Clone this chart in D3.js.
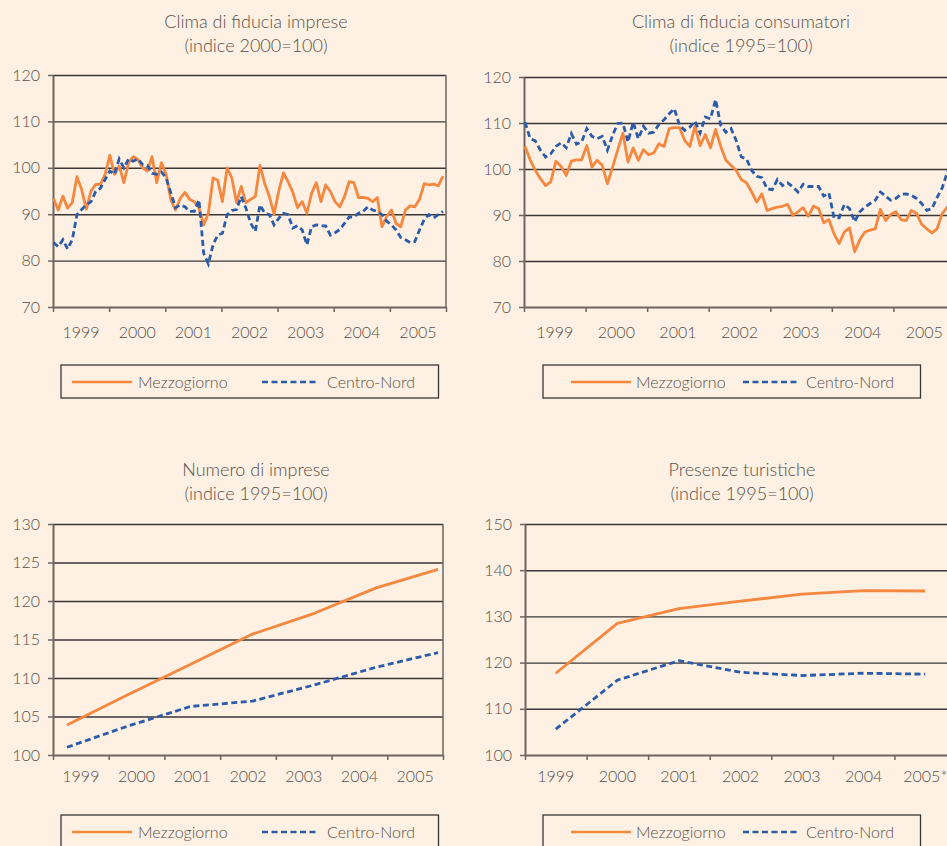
<!DOCTYPE html>
<html>
<head>
<meta charset="utf-8">
<script src="https://cdn.jsdelivr.net/npm/d3@7"></script>
<style>
  body { margin: 0; background: #fef0e2; }
  svg { display: block; font-family: Lato, "Open Sans", sans-serif; font-weight: 300; }
</style>
</head>
<body>
<svg id="chart" width="947" height="846"></svg>
<script>
// years on the category axis
var years = ["1999", "2000", "2001", "2002", "2003", "2004", "2005"];
var yearsProv = ["1999", "2000", "2001", "2002", "2003", "2004", "2005*"];
var seriesNames = ["Mezzogiorno", "Centro-Nord"];

// Clima di fiducia imprese, monthly 1999-2005 (indice 2000=100)
var impreseSud = [93.4, 90.9, 93.9, 91.3, 92.5, 98.1, 95.3, 91.1, 95.0, 96.4, 96.4, 98.6,
  102.7, 98.6, 100.4, 96.8, 101.1, 102.4, 101.8, 100.0, 99.3, 102.4, 96.8, 101.1,
  98.6, 93.1, 90.9, 93.4, 94.7, 93.2, 92.7, 91.3, 87.7, 90.2, 97.8, 97.3,
  92.7, 100.0, 97.8, 92.5, 96.0, 92.5, 93.2, 93.8, 100.5, 96.6, 93.8, 90.0,
  95.0, 98.9, 97.0, 94.7, 91.4, 92.7, 90.2, 94.5, 96.8, 92.7, 96.3, 94.9,
  92.7, 91.6, 93.8, 97.0, 96.8, 93.6, 93.6, 93.4, 92.7, 93.6, 87.3, 89.5,
  90.9, 88.0, 87.3, 90.9, 91.8, 91.6, 93.2, 96.6, 96.3, 96.5, 96.1, 98.2];
var impreseNord = [83.9, 83.0, 84.5, 82.5, 84.5, 89.9, 91.0, 92.0, 92.7, 94.9, 95.6, 97.5,
  99.3, 98.6, 101.9, 100.0, 101.9, 101.4, 101.9, 100.7, 100.5, 98.8, 98.6, 99.1,
  97.8, 94.6, 91.4, 92.0, 91.6, 90.6, 90.6, 93.1, 81.6, 79.3, 83.4, 85.5,
  85.9, 89.9, 90.8, 91.0, 93.8, 91.3, 88.1, 86.3, 92.0, 90.2, 89.9, 87.7,
  89.1, 90.2, 89.9, 87.0, 87.5, 86.6, 83.4, 87.3, 87.7, 87.5, 87.5, 85.5,
  86.0, 86.7, 88.0, 89.4, 89.4, 90.2, 90.6, 91.6, 90.9, 90.6, 89.9, 88.5,
  87.7, 86.6, 85.0, 84.5, 83.9, 84.1, 86.6, 88.9, 89.9, 89.2, 89.9, 90.6];

// Clima di fiducia consumatori, monthly 1999-2005 (indice 1995=100)
var consumSud = [104.9, 102.0, 99.7, 97.9, 96.4, 97.2, 101.7, 100.6, 98.6, 101.7, 102.0, 102.0,
  105.1, 100.4, 101.9, 100.8, 96.8, 100.4, 104.1, 107.8, 101.5, 104.6, 101.9, 104.2,
  103.1, 103.5, 105.5, 104.9, 108.8, 109.0, 109.0, 106.2, 104.9, 109.3, 105.1, 107.5,
  104.6, 108.6, 104.9, 101.9, 100.8, 99.7, 97.7, 97.0, 95.0, 92.8, 94.6, 91.0,
  91.4, 91.7, 91.9, 92.3, 89.9, 90.7, 91.6, 89.7, 91.9, 91.4, 88.3, 89.0,
  85.9, 83.8, 86.3, 87.2, 82.0, 84.6, 86.3, 86.7, 87.0, 91.2, 88.8, 90.1,
  90.7, 89.0, 88.8, 91.0, 90.4, 88.0, 87.0, 86.1, 87.0, 90.3, 91.7, 92.5];
var consumNord = [110.2, 106.6, 106.1, 104.1, 102.6, 103.3, 104.9, 105.7, 104.6, 107.7, 105.4, 105.9,
  108.8, 107.1, 106.6, 107.1, 104.1, 107.3, 109.9, 110.0, 105.9, 110.2, 106.6, 109.3,
  107.8, 108.0, 109.7, 110.7, 112.0, 113.1, 109.5, 108.4, 109.1, 110.4, 107.8, 111.3,
  110.9, 115.1, 109.5, 108.0, 108.8, 106.2, 102.6, 102.2, 99.7, 98.4, 98.1, 95.7,
  95.5, 97.7, 96.4, 97.0, 96.1, 95.0, 96.7, 96.2, 96.2, 96.2, 94.1, 94.8,
  89.4, 89.4, 92.3, 91.4, 88.5, 90.7, 91.7, 92.5, 93.2, 95.0, 94.1, 93.2,
  93.6, 94.5, 94.6, 94.3, 93.6, 92.5, 91.0, 91.4, 93.8, 95.9, 99.3, 101.5];

// Numero di imprese, yearly (indice 1995=100)
var impreseNumSud = [103.9, 107.9, 111.8, 115.7, 118.4, 121.7, 124.1];
var impreseNumNord = [101.0, 103.8, 106.3, 107.0, 109.1, 111.4, 113.3];

// Presenze turistiche, yearly (indice 1995=100)
var turismoSud = [117.7, 128.5, 131.7, 133.3, 134.8, 135.6, 135.5];
var turismoNord = [105.6, 116.2, 120.4, 117.9, 117.2, 117.7, 117.5];

var ORANGE = "#f5873f", BLUE = "#2b5cab", TEXT = "#55504c",
    GRID = "#3a3634", AXIS = "#6f6560";

var svg = d3.select("#chart");
svg.append("rect").attr("width", 947).attr("height", 846).attr("fill", "#fef0e2");

var panels = [
  { title: ["Clima di fiducia imprese", "(indice 2000=100)"], cx: 256, ty: 28,
    left: 53, right: 446, top: 75, bottom: 307, yDomain: [70, 120], yTicks: d3.range(70, 121, 10),
    labels: years, sud: impreseSud, nord: impreseNord, dataPad: [0.5, 3],
    labelPad: 20, legend: { x: 61, y: 365, off: [11, 77, 201, 266] } },
  { title: ["Clima di fiducia consumatori", "(indice 1995=100)"], cx: 741, ty: 28,
    left: 524, right: 955, top: 77, bottom: 307, yDomain: [70, 120], yTicks: d3.range(70, 121, 10),
    labels: years, sud: consumSud, nord: consumNord, dataPad: [1, 2.5],
    labelPad: 20, legend: { x: 543, y: 365, off: [28, 93, 200, 263] } },
  { title: ["Numero di imprese", "(indice 1995=100)"], cx: 256, ty: 476,
    left: 53, right: 443, top: 524, bottom: 755, yDomain: [100, 130], yTicks: d3.range(100, 131, 5),
    labels: years, sud: impreseNumSud, nord: impreseNumNord, dataPad: [14, 5],
    labelPad: 16, legend: { x: 61, y: 815, off: [11, 77, 201, 266] } },
  { title: ["Presenze turistiche", "(indice 1995=100)"], cx: 742, ty: 476,
    left: 525, right: 956, top: 524, bottom: 755, yDomain: [100, 150], yTicks: d3.range(100, 151, 10),
    labels: yearsProv, sud: turismoSud, nord: turismoNord, band: true,
    labelPad: 16, legend: { x: 543, y: 815, off: [28, 93, 200, 263] } }
];

panels.forEach(drawPanel);

function drawPanel(p) {
  var g = svg.append("g");
  var w = p.right - p.left;
  var y = d3.scaleLinear().domain(p.yDomain).range([p.bottom, p.top]);
  var xEdge = d3.scaleLinear().domain([0, p.labels.length]).range([p.left, p.right]);
  var xBand = d3.scaleBand().domain(p.labels).range([p.left, p.right]);

  // titles
  g.selectAll("text.title").data(p.title).enter().append("text")
    .attr("x", p.cx).attr("y", function(d, i) { return p.ty + i * 24; })
    .attr("text-anchor", "middle").attr("font-size", 18).attr("fill", TEXT)
    .text(function(d) { return d; });

  // gridlines
  var grid = g.append("g").attr("transform", "translate(" + p.left + ",0)")
    .call(d3.axisLeft(y).tickValues(p.yTicks.slice(1)).tickSize(-w).tickFormat(""));
  grid.select(".domain").remove();
  grid.selectAll("line").attr("stroke", GRID).attr("stroke-width", 1.4);

  // right border of plot area
  g.append("line").attr("x1", p.right).attr("x2", p.right).attr("y1", p.top).attr("y2", p.bottom)
    .attr("stroke", AXIS).attr("stroke-width", 1.5);

  // y axis
  var ya = g.append("g").attr("transform", "translate(" + p.left + ",0)")
    .call(d3.axisLeft(y).tickValues(p.yTicks).tickSize(5).tickPadding(8).tickSizeOuter(0))
    .attr("font-family", null).attr("font-size", 16);
  ya.select(".domain").attr("stroke", AXIS).attr("stroke-width", 2);
  ya.selectAll("line").attr("stroke", AXIS).attr("stroke-width", 1.5);
  ya.selectAll("text").attr("fill", TEXT);

  // x axis: tick marks between categories
  var xa = g.append("g").attr("transform", "translate(0," + p.bottom + ")")
    .call(d3.axisBottom(xEdge).ticks(p.labels.length).tickSize(5).tickSizeOuter(0).tickFormat(""));
  xa.select(".domain").attr("stroke", AXIS).attr("stroke-width", 2);
  xa.selectAll("line").attr("stroke", AXIS).attr("stroke-width", 1.5);

  // x axis: category labels
  var xl = g.append("g").attr("transform", "translate(0," + p.bottom + ")")
    .call(d3.axisBottom(xBand).tickSize(0).tickPadding(p.labelPad))
    .attr("font-family", null).attr("font-size", 16);
  xl.select(".domain").remove();
  xl.selectAll("text").attr("fill", TEXT);

  // data x scale
  var x;
  if (p.band) {
    x = function(d, i) { return xBand(p.labels[i]) + xBand.bandwidth() / 2; };
  } else {
    var xs = d3.scaleLinear().domain([0, p.sud.length - 1])
      .range([p.left + p.dataPad[0], p.right - p.dataPad[1]]);
    x = function(d, i) { return xs(i); };
  }
  var line = d3.line().x(x).y(function(d) { return y(d); });

  g.append("path").datum(p.sud).attr("d", line)
    .attr("fill", "none").attr("stroke", ORANGE).attr("stroke-width", 2.8)
    .attr("stroke-linejoin", "round");
  g.append("path").datum(p.nord).attr("d", line)
    .attr("fill", "none").attr("stroke", BLUE).attr("stroke-width", 2.8)
    .attr("stroke-dasharray", "6,3.5");

  // legend
  var L = p.legend;
  var lg = g.append("g").attr("transform", "translate(" + L.x + "," + L.y + ")");
  lg.append("rect").attr("width", 377.5).attr("height", 33)
    .attr("fill", "none").attr("stroke", GRID).attr("stroke-width", 1.3);
  lg.append("line").attr("x1", L.off[0]).attr("x2", L.off[0] + 60).attr("y1", 17).attr("y2", 17)
    .attr("stroke", ORANGE).attr("stroke-width", 2.6);
  lg.append("text").attr("x", L.off[1]).attr("y", 23).attr("font-size", 16).attr("fill", TEXT)
    .text(seriesNames[0]);
  lg.append("line").attr("x1", L.off[2]).attr("x2", L.off[2] + 56).attr("y1", 17).attr("y2", 17)
    .attr("stroke", BLUE).attr("stroke-width", 2.6).attr("stroke-dasharray", "6,3.5");
  lg.append("text").attr("x", L.off[3]).attr("y", 23).attr("font-size", 16).attr("fill", TEXT)
    .text(seriesNames[1]);
}
</script>
</body>
</html>
